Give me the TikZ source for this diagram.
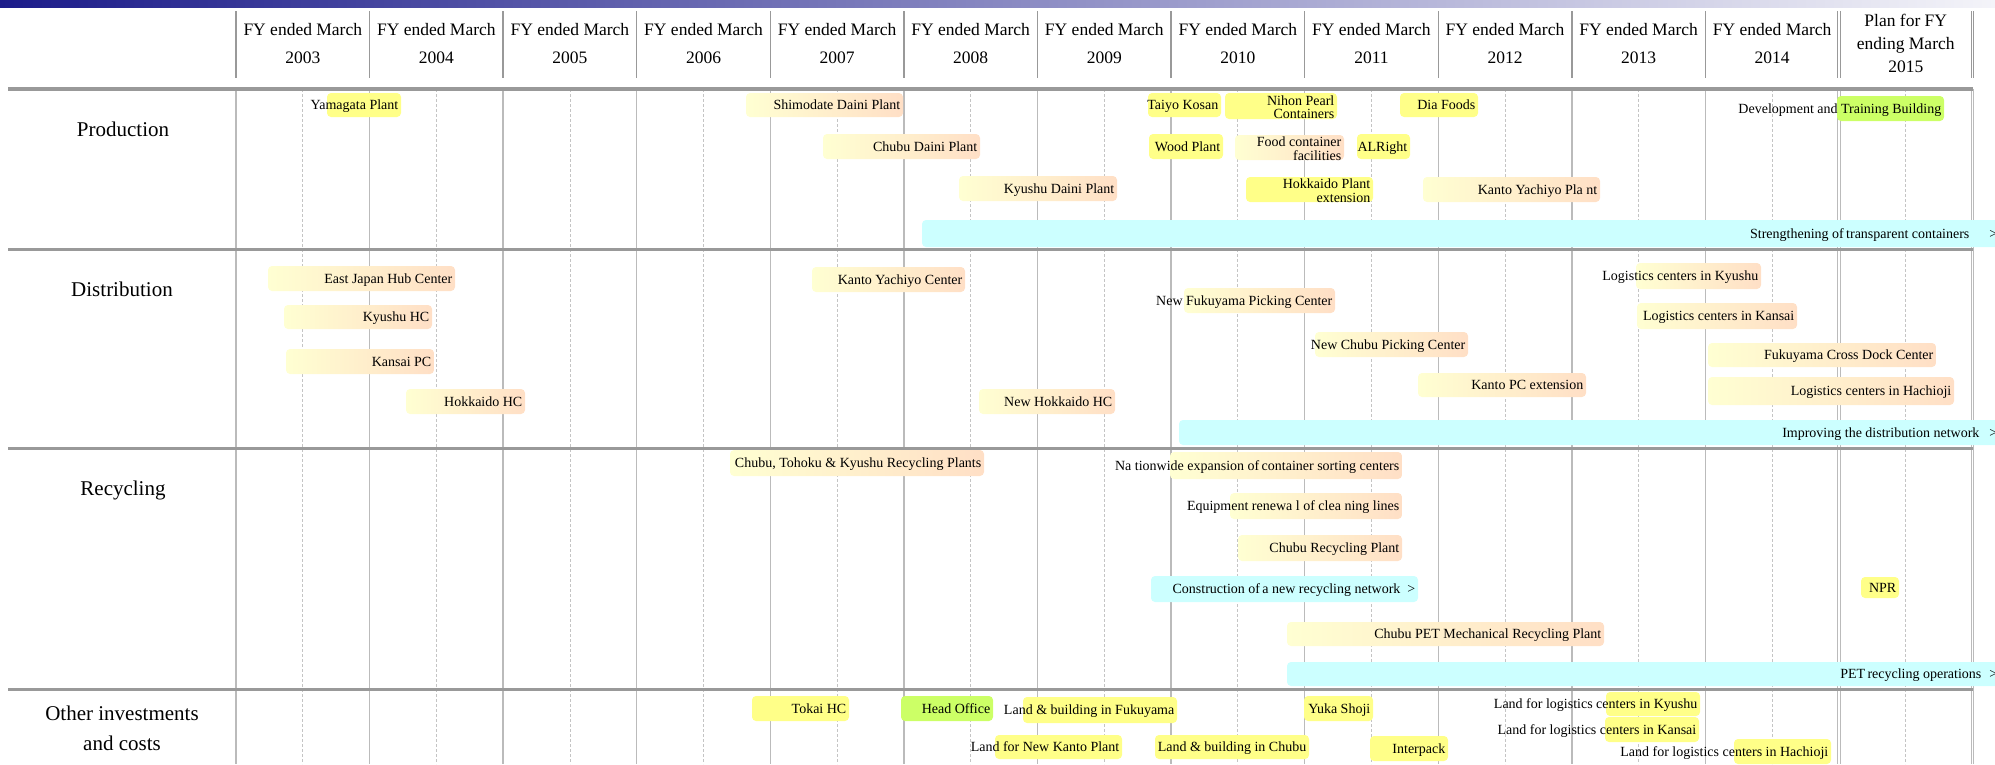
\documentclass[tikz,border=0pt]{standalone}
\usepackage{fontspec}
\setmainfont{Liberation Serif}
\definecolor{cream}{HTML}{FFFFD2}
\definecolor{peach}{HTML}{FFDFC6}
\definecolor{ylw}{HTML}{FFFF88}
\definecolor{limeb}{HTML}{CCFF66}
\definecolor{cyanb}{HTML}{CCFFFF}
\definecolor{sepgray}{HTML}{999999}
\definecolor{colgray}{HTML}{BBBBBB}
\definecolor{dashgray}{HTML}{C4C4C4}
\definecolor{navyb}{HTML}{1C1C8A}
\definecolor{paleb}{HTML}{F4F4F9}
\tikzset{
 gradbar/.style={shade, left color=cream, right color=peach},
 ybar/.style={fill=ylw},
 lbar/.style={fill=limeb},
 cbar/.style={fill=cyanb},
 bartext/.style={anchor=base east, inner sep=0pt, font=\fontsize{14}{14}\selectfont, text=black},
 bartwo/.style={anchor=east, inner sep=0pt, align=right, font=\fontsize{14}{13.5}\selectfont, text=black},
 hdr/.style={align=center, inner sep=0pt, font=\fontsize{17.5}{28}\selectfont},
 rowlab/.style={align=center, inner sep=0pt, font=\fontsize{21}{30}\selectfont},
 sepline/.style={draw=sepgray, line width=3.4pt},
 colline/.style={draw=colgray, line width=1.4pt},
 hdline/.style={draw=sepgray, line width=1.4pt},
 midline/.style={draw=dashgray, line width=0.9pt, dash pattern=on 3pt off 2pt},
}
\newcommand\tb[7]{\path[#1,rounded corners=4pt] (#3,#4) rectangle (#5,#6);
  \node[bartext] (#2) at ({#5-2.5},{(#4+#6)/2+4.8}) {#7};}
\newcommand\tbb[7]{\path[#1,rounded corners=4pt] (#3,#4) rectangle (#5,#6);
  \node[bartwo] (#2) at ({#5-2.5},{(#4+#6)/2+1.2}) {#7};}
\begin{document}
\begin{tikzpicture}[x=1pt,y=-1pt]
\useasboundingbox (0,0) rectangle (1995,764);
% top band
\shade[left color=navyb, right color=paleb] (0,0) rectangle (1995,7);
% column lines
\foreach \i in {0,...,11} {
  \pgfmathsetmacro\xx{236+133.58*\i}
  \draw[hdline] (\xx,11) -- (\xx,78);
  \draw[colline] (\xx,89) -- (\xx,764);
}
\foreach \xx in {1838.96,1972.54} {
  \draw[hdline, line width=1pt] ({\xx-1.2},11) -- ({\xx-1.2},78);
  \draw[hdline, line width=1pt] ({\xx+1.2},11) -- ({\xx+1.2},78);
  \draw[colline, line width=1pt] ({\xx-1.2},89) -- ({\xx-1.2},764);
  \draw[colline, line width=1pt] ({\xx+1.2},89) -- ({\xx+1.2},764);
}
\foreach \i in {0,...,12} {
  \pgfmathsetmacro\xx{236+66.79+133.58*\i}
  \draw[midline] (\xx,89) -- (\xx,764);
}
% separators
\foreach \yy in {89,249.3,448.3,689.7} {
  \draw[sepline] (8,\yy) -- (1972.5,\yy);
}
% header texts
\foreach \i in {0,...,11} {
  \pgfmathsetmacro\xc{236+66.79+133.58*\i}
  \pgfmathtruncatemacro\yr{2003+\i}
  \node[hdr] (hd\i) at (\xc,43.5) {FY ended March\\\yr};
}
\node[hdr, font=\fontsize{17.5}{23}\selectfont] (hplan) at (1905.75,43.5) {Plan for FY\\ending March\\2015};
% row labels
\node[rowlab, anchor=base] (rprod) at (123,136.5) {Production};
\node[rowlab, anchor=base] (rdist) at (122,296.5) {Distribution};
\node[rowlab, anchor=base] (rrec) at (123,495) {Recycling};
\node[rowlab] (roth) at (122,728) {Other investments\\and costs};
% Production
\tb{ybar}{yamagata}{327}{93}{401}{117}{Yamagata Plant}
\tb{gradbar}{shimodate}{746}{93}{903}{117}{Shimodate Daini Plant}
\tb{gradbar}{chubudaini}{823}{134}{980}{159}{Chubu Daini Plant}
\tb{gradbar}{kyushudaini}{959}{176}{1117}{201}{Kyushu Daini Plant}
\tb{cbar}{strength}{922}{220}{2000}{247}{Strengthening of\,transparent containers\hspace{20pt}>}
\tb{ybar}{taiyo}{1148}{93}{1221}{117}{Taiyo Kosan}
\tbb{ybar}{nihon}{1225}{93}{1337}{119}{Nihon Pearl\\Containers}
\tb{ybar}{wood}{1149}{134}{1223}{159}{Wood Plant}
\tbb{gradbar}{food}{1235}{135}{1344}{160}{Food container\\facilities}
\tb{ybar}{alright}{1357}{134}{1410}{159}{ALRight}
\tbb{ybar}{hokkaidoplant}{1246}{177}{1373}{202}{Hokkaido Plant\\extension}
\tb{ybar}{diafoods}{1400}{93}{1478}{117}{Dia Foods}
\tb{gradbar}{kantoyachiyoplant}{1423}{177}{1600}{202}{Kanto Yachiyo Pla nt}
\tb{lbar}{devtrain}{1837}{96}{1944}{121}{Development and Training Building}
% Distribution
\tb{gradbar}{eastjapan}{268}{266}{455}{291}{East Japan Hub Center}
\tb{gradbar}{kyushuhc}{284}{305}{432}{329}{Kyushu HC}
\tb{gradbar}{kansaipc}{286}{349}{434}{374}{Kansai PC}
\tb{gradbar}{hokkaidohc}{406}{389}{525}{414}{Hokkaido HC}
\tb{gradbar}{kantoyachiyocenter}{812}{267}{965}{292}{Kanto Yachiyo Center}
\tb{gradbar}{newfukuyama}{1184}{288}{1335}{313}{New Fukuyama Picking Center}
\tb{gradbar}{newchubu}{1315}{332}{1468}{357}{New Chubu Picking Center}
\tb{gradbar}{newhokkaido}{979}{389}{1115}{414}{New Hokkaido HC}
\tb{cbar}{improving}{1179}{420}{2000}{445}{Improving the distribution network\hspace{10pt}>}
\tb{gradbar}{kantopc}{1418}{373}{1586}{397}{Kanto PC extension}
\tb{gradbar}{logkyushu}{1636}{263}{1761}{289}{Logistics centers in Kyushu}
\tb{gradbar}{logkansai}{1637}{303}{1797}{329}{Logistics centers in Kansai}
\tb{gradbar}{fukuyamacross}{1708}{343}{1936}{367}{Fukuyama Cross Dock Center}
\tb{gradbar}{loghachioji}{1708}{377}{1954}{405}{Logistics centers in Hachioji}
% Recycling
\tb{gradbar}{chubutohoku}{730}{450}{984}{476}{Chubu, Tohoku \& Kyushu Recycling Plants}
\tb{gradbar}{nationwide}{1170}{452}{1402}{479}{Na tionwide expansion of\,container sorting centers}
\tb{gradbar}{equipment}{1230}{493}{1402}{519}{Equipment renewa l of clea ning lines}
\tb{gradbar}{chuburecycling}{1238}{535}{1402}{561}{Chubu Recycling Plant}
\tb{cbar}{construction}{1151}{576}{1418}{602}{Construction of\,a new recycling network\hspace{7pt}>}
\tb{gradbar}{chubupet}{1287}{622}{1604}{646}{Chubu PET Mechanical Recycling Plant}
\tb{cbar}{petrecycling}{1287}{662}{2000}{686}{PET\,recycling operations\hspace{8pt}>}
\tb{ybar}{npr}{1861}{577}{1899}{598}{NPR}
% Other investments and costs
\tb{ybar}{tokai}{752}{696}{849}{721}{Tokai HC}
\tb{lbar}{headoffice}{901}{696}{993}{721}{Head Office}
\tb{ybar}{landfukuyama}{1023}{697}{1177}{723}{Land \& building in Fukuyama}
\tb{ybar}{landnewkanto}{995}{735}{1122}{759}{Land for New Kanto Plant}
\tb{ybar}{landchubu}{1155}{735}{1309}{759}{Land \& building in Chubu}
\tb{ybar}{yukashoji}{1304}{696}{1373}{721}{Yuka Shoji}
\tb{ybar}{interpack}{1370}{736}{1448}{761}{Interpack}
\tb{ybar}{landkyushu}{1606}{692}{1700}{716}{Land for logistics centers in Kyushu}
\tb{ybar}{landkansai}{1605}{717}{1699}{742}{Land for logistics centers in Kansai}
\tb{ybar}{landhachioji}{1734}{739}{1831}{764}{Land for logistics centers in Hachioji}
\end{tikzpicture}
\end{document}
